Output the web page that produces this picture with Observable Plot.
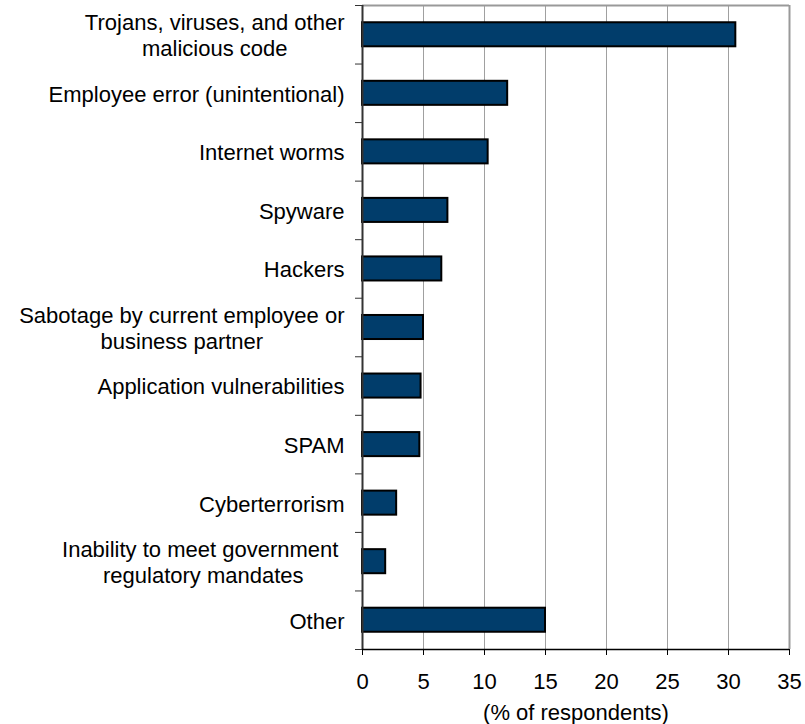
<!DOCTYPE html>
<html><head><meta charset="utf-8">
<script src="https://cdn.jsdelivr.net/npm/d3@7"></script>
<script src="https://cdn.jsdelivr.net/npm/@observablehq/plot@0.6"></script>
<style>body{margin:0;background:#fff}</style>
</head><body><div id="chart"></div>
<script>
const categories = [
  "Trojans, viruses, and other\nmalicious code",
  "Employee error (unintentional)",
  "Internet worms",
  "Spyware",
  "Hackers",
  "Sabotage by current employee or\nbusiness partner",
  "Application vulnerabilities",
  "SPAM",
  "Cyberterrorism",
  "Inability to meet government \nregulatory mandates",
  "Other"
];
const values = [30.6, 11.9, 10.3, 7.0, 6.5, 5.0, 4.8, 4.7, 2.8, 1.9, 15.0];
const xTicks = [0, 5, 10, 15, 20, 25, 30, 35];
const axisTitle = "(% of respondents)";

const data = categories.map((c, i) => ({category: c, value: values[i], i}));
const FONT = "'Liberation Sans', Arial, sans-serif";
const ctx = document.createElement("canvas").getContext("2d");
ctx.font = "22px 'Liberation Sans'";
const blockWidth = s => d3.max(s.split("\n"), l => ctx.measureText(l).width);

const labelMarks = data.map(d => Plot.text([d], {
  x: () => 0, y: r => r.i + 0.5, text: "category",
  textAnchor: "middle", lineAnchor: "middle", lineHeight: 1.2,
  dx: -(18 + blockWidth(d.category) / 2), fontSize: 22, fill: "#000"
}));

const chart = Plot.plot({
  width: 805, height: 724,
  marginLeft: 362, marginRight: 16, marginTop: 5, marginBottom: 75,
  style: {fontFamily: FONT, fontSize: "22px", background: "#fff", color: "#000"},
  x: {domain: [0, 35], label: null},
  y: {domain: [0, categories.length], reverse: true, label: null},
  marks: [
    Plot.gridX({ticks: xTicks.slice(1), stroke: "#a0a0a0", strokeOpacity: 1, strokeWidth: 1}),
    Plot.ruleY([0], {stroke: "#999", strokeWidth: 2}),
    Plot.ruleX([35], {stroke: "#999", strokeWidth: 2}),
    Plot.rect(data, {
      x1: () => 0, x2: "value", y1: "i", y2: d => d.i + 1,
      insetTop: 17.25, insetBottom: 17.25,
      fill: "#013d6b", stroke: "#000", strokeWidth: 2
    }),
    Plot.ruleX([0], {stroke: "#333", strokeWidth: 2}),
    Plot.ruleY([categories.length], {stroke: "#000", strokeWidth: 1.5}),
    Plot.axisY({ticks: d3.range(0, categories.length + 1), tickSize: 7, tickFormat: () => "", label: null, stroke: "#333"}),
    Plot.axisX({ticks: xTicks, tickSize: 6, tickPadding: 18, fontSize: 22, label: null, stroke: "#000"}),
    ...labelMarks,
    Plot.text([axisTitle], {frameAnchor: "bottom", lineAnchor: "top", dy: 55, fontSize: 22, fill: "#000"})
  ]
});
document.getElementById("chart").appendChild(chart);
</script>
</body></html>
